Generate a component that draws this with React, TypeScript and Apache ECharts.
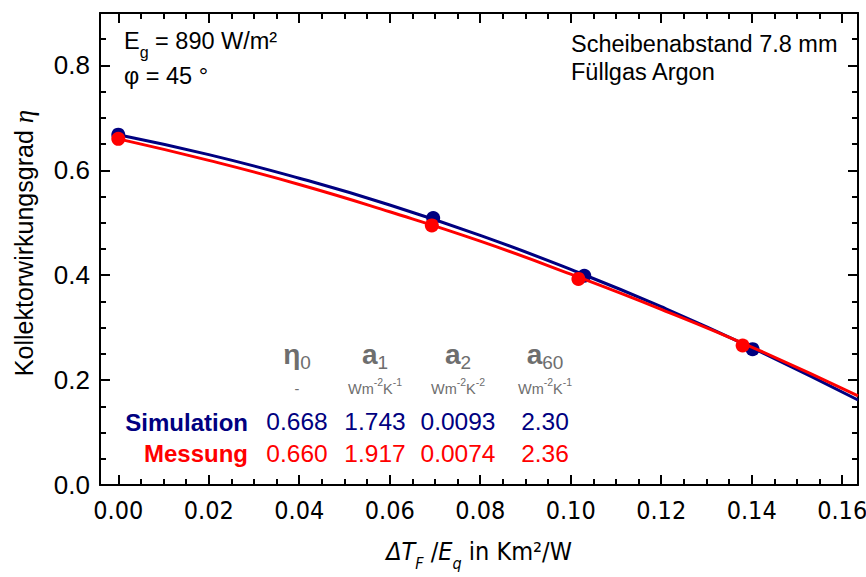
import React, { useEffect, useRef } from "react";
import * as echarts from "echarts";

// ---- data ----
const simPointsX = [0, 0.0696, 0.103, 0.1402];
const simPointsY = [0.668, 0.509, 0.399, 0.259];
const mesPointsX = [0, 0.0693, 0.1017, 0.138];
const mesPointsY = [0.66, 0.495, 0.393, 0.266];

const curveX = [0, 0.02, 0.04, 0.06, 0.08, 0.1, 0.12, 0.14, 0.1635];
const simCurveY = [0.668, 0.63, 0.585, 0.534, 0.476, 0.411, 0.34, 0.262, 0.162];
const mesCurveY = [0.66, 0.619, 0.573, 0.521, 0.465, 0.402, 0.335, 0.263, 0.17];

const xMajorTicks = [0, 0.02, 0.04, 0.06, 0.08, 0.1, 0.12, 0.14, 0.16];
const xMinorTicks = [
  0.005, 0.01, 0.015, 0.025, 0.03, 0.035, 0.045, 0.05, 0.055, 0.065, 0.07, 0.075,
  0.085, 0.09, 0.095, 0.105, 0.11, 0.115, 0.125, 0.13, 0.135, 0.145, 0.15, 0.155,
];
const yMajorTicks = [0, 0.2, 0.4, 0.6, 0.8];
const yMinorTicks = [0.05, 0.1, 0.15, 0.25, 0.3, 0.35, 0.45, 0.5, 0.55, 0.65, 0.7, 0.75, 0.85];

const tableHeaders = ["η", "a", "a", "a"];
const tableHeaderSubs = ["0", "1", "2", "60"];
const tableUnits = ["-", "Wm{s|-2}K{s|-1}", "Wm{s|-2}K{s|-2}", "Wm{s|-2}K{s|-1}"];
const simValues = ["0.668", "1.743", "0.0093", "2.30"];
const mesValues = ["0.660", "1.917", "0.0074", "2.36"];

const X_MIN = -0.00404;
const X_MAX = 0.1635;
const Y_MIN = 0;
const Y_MAX = 0.9;

const NAVY = "#000080";
const RED = "#ff0000";
const GRAY = "#6e6e6e";
const FONT = "'Liberation Sans', Arial, Helvetica, sans-serif";
const SERIF = "'Liberation Serif', 'Times New Roman', serif";
const NARROW = "'Liberation Sans Narrow', 'Arial Narrow', 'DejaVu Sans Condensed', 'Liberation Sans', sans-serif";

export default function App() {
  const ref = useRef<HTMLDivElement>(null);

  useEffect(() => {
    if (!ref.current) return;
    const chart = echarts.init(ref.current, undefined, { renderer: "svg" });

    const gridBox = { left: 100, top: 13, width: 758, height: 472, outerBoundsMode: "none" };

    const xBase = (gridIndex: number, position: string) => ({
      type: "value",
      gridIndex,
      position,
      min: X_MIN,
      max: X_MAX,
      splitLine: { show: false },
    });
    const yBase = (gridIndex: number, position: string) => ({
      type: "value",
      gridIndex,
      position,
      min: Y_MIN,
      max: Y_MAX,
      splitLine: { show: false },
    });
    const lineOn = { show: true, onZero: false, lineStyle: { color: "#000", width: 2 } };
    const lineOff = { show: false, onZero: false };
    const majorTick = (vals: number[]) => ({
      show: true,
      inside: true,
      length: 10,
      customValues: vals,
      lineStyle: { color: "#000", width: 2 },
    });
    const minorTick = (vals: number[]) => ({
      show: true,
      inside: true,
      length: 6,
      customValues: vals,
      lineStyle: { color: "#000", width: 2 },
    });

    const xAxes = [
      {
        ...xBase(0, "bottom"),
        axisLine: lineOn,
        axisTick: majorTick(xMajorTicks),
        axisLabel: {
          customValues: xMajorTicks,
          formatter: (v: number) => v.toFixed(2),
          fontSize: 25,
          fontFamily: NARROW,
          color: "#000",
          margin: 13,
        },
        name: "{i|ΔT}{is|F}{n| /}{i|E}{is|q}{n| in Km²/W}",
        nameLocation: "middle",
        nameGap: 54,
        nameTextStyle: {
          fontFamily: NARROW,
          rich: {
            i: { fontSize: 25, fontStyle: "italic", lineHeight: 32, verticalAlign: "top", fontFamily: NARROW, color: "#000" },
            is: { fontSize: 16, fontStyle: "italic", lineHeight: 13, verticalAlign: "bottom", fontFamily: NARROW, color: "#000" },
            n: { fontSize: 25, lineHeight: 32, verticalAlign: "top", fontFamily: NARROW, color: "#000" },
          },
        },
      },
      {
        ...xBase(0, "top"),
        axisLine: lineOn,
        axisTick: majorTick(xMajorTicks),
        axisLabel: { show: false },
      },
      {
        ...xBase(1, "bottom"),
        axisLine: lineOff,
        axisTick: minorTick(xMinorTicks),
        axisLabel: { show: false },
      },
      {
        ...xBase(1, "top"),
        axisLine: lineOff,
        axisTick: minorTick(xMinorTicks),
        axisLabel: { show: false },
      },
    ];

    const yAxes = [
      {
        ...yBase(0, "left"),
        axisLine: lineOn,
        axisTick: majorTick(yMajorTicks),
        axisLabel: {
          customValues: yMajorTicks,
          formatter: (v: number) => v.toFixed(1),
          fontSize: 26,
          fontFamily: FONT,
          color: "#000",
          margin: 10,
        },
      },
      {
        ...yBase(0, "right"),
        axisLine: lineOn,
        axisTick: majorTick(yMajorTicks),
        axisLabel: { show: false },
      },
      {
        ...yBase(1, "left"),
        axisLine: lineOff,
        axisTick: minorTick(yMinorTicks),
        axisLabel: { show: false },
      },
      {
        ...yBase(1, "right"),
        axisLine: lineOff,
        axisTick: minorTick(yMinorTicks),
        axisLabel: { show: false },
      },
    ];

    const zip = (xs: number[], ys: number[]) => xs.map((x, i) => [x, ys[i]]);

    const colX = [297, 375, 458, 545];
    const graphics: any[] = [];
    // y axis title
    graphics.push({
      type: "text",
      x: 24,
      y: 243,
      rotation: Math.PI / 2,
      style: {
        text: "Kollektorwirkungsgrad {i|η}",
        fontSize: 25,
        fontFamily: FONT,
        fill: "#000",
        align: "center",
        verticalAlign: "middle",
        rich: { i: { fontSize: 27, fontStyle: "italic", fontFamily: SERIF, fill: "#000" } },
      },
    });
    // Top-left annotation
    graphics.push({
      type: "text",
      left: 124,
      top: 29,
      style: {
        text: "{m|E}{s|g}{m| = 890 W/m²}",
        rich: {
          m: { fontSize: 23.5, lineHeight: 31, verticalAlign: "top", fontFamily: FONT, fill: "#000" },
          s: { fontSize: 16, lineHeight: 13, verticalAlign: "bottom", fontFamily: FONT, fill: "#000" },
        },
      },
    });
    graphics.push({
      type: "text",
      x: 124,
      y: 76,
      style: { text: "φ = 45 °", fontSize: 23.5, fontFamily: FONT, fill: "#000", verticalAlign: "middle", align: "left" },
    });
    graphics.push({
      type: "text",
      x: 571,
      y: 44,
      style: { text: "Scheibenabstand 7.8 mm", fontSize: 23.5, fontFamily: FONT, fill: "#000", verticalAlign: "middle", align: "left" },
    });
    graphics.push({
      type: "text",
      x: 571,
      y: 72,
      style: { text: "Füllgas Argon", fontSize: 23.5, fontFamily: FONT, fill: "#000", verticalAlign: "middle", align: "left" },
    });
    // Table
    tableHeaders.forEach((h, i) => {
      graphics.push({
        type: "text",
        x: colX[i],
        y: 356,
        style: {
          text: `{m|${h}}{s|${tableHeaderSubs[i]}}`,
          align: "center",
          verticalAlign: "middle",
          rich: {
            m: { fontSize: 28, fontWeight: "bold", lineHeight: 32, verticalAlign: "top", fontFamily: FONT, fill: GRAY },
            s: { fontSize: 19, lineHeight: 15, verticalAlign: "bottom", fontFamily: FONT, fill: GRAY },
          },
        },
      });
      graphics.push({
        type: "text",
        x: colX[i],
        y: 386,
        style: {
          text: i === 0 ? "{m|-}" : tableUnits[i].replace(/^Wm/, "{m|Wm}").replace("}K", "}{m|K}"),
          align: "center",
          verticalAlign: "middle",
          rich: {
            m: { fontSize: 14.5, lineHeight: 20, verticalAlign: "bottom", fontFamily: FONT, fill: GRAY },
            s: { fontSize: 10.5, lineHeight: 10, verticalAlign: "top", fontFamily: FONT, fill: GRAY },
          },
        },
      });
      graphics.push({
        type: "text",
        x: colX[i],
        y: 421,
        style: { text: simValues[i], fontSize: 24.5, fontFamily: FONT, fill: NAVY, align: "center", verticalAlign: "middle" },
      });
      graphics.push({
        type: "text",
        x: colX[i],
        y: 453,
        style: { text: mesValues[i], fontSize: 24.5, fontFamily: FONT, fill: RED, align: "center", verticalAlign: "middle" },
      });
    });
    graphics.push({
      type: "text",
      x: 248,
      y: 422,
      style: { text: "Simulation", fontSize: 24, fontWeight: "bold", fontFamily: FONT, fill: NAVY, align: "right", verticalAlign: "middle" },
    });
    graphics.push({
      type: "text",
      x: 248,
      y: 453,
      style: { text: "Messung", fontSize: 24, fontWeight: "bold", fontFamily: FONT, fill: RED, align: "right", verticalAlign: "middle" },
    });

    chart.setOption({
      animation: false,
      backgroundColor: "#fff",
      grid: [gridBox, { ...gridBox }],
      xAxis: xAxes,
      yAxis: yAxes,
      graphic: graphics,
      series: [
        {
          name: "Simulation Kurve",
          type: "line",
          xAxisIndex: 0,
          yAxisIndex: 0,
          data: zip(curveX, simCurveY),
          smooth: true,
          showSymbol: false,
          lineStyle: { color: NAVY, width: 3 },
          itemStyle: { color: NAVY },
          z: 2,
        },
        {
          name: "Simulation",
          type: "scatter",
          xAxisIndex: 0,
          yAxisIndex: 0,
          data: zip(simPointsX, simPointsY),
          symbolSize: 14,
          itemStyle: { color: NAVY, opacity: 1 },
          z: 3,
        },
        {
          name: "Messung Kurve",
          type: "line",
          xAxisIndex: 0,
          yAxisIndex: 0,
          data: zip(curveX, mesCurveY),
          smooth: true,
          showSymbol: false,
          lineStyle: { color: RED, width: 3 },
          itemStyle: { color: RED },
          z: 4,
        },
        {
          name: "Messung",
          type: "scatter",
          xAxisIndex: 0,
          yAxisIndex: 0,
          data: zip(mesPointsX, mesPointsY),
          symbolSize: 14,
          itemStyle: { color: RED, opacity: 1 },
          z: 5,
        },
      ],
    });

    return () => chart.dispose();
  }, []);

  return <div ref={ref} style={{ width: 866, height: 577, position: "absolute", left: 0, top: 0 }} />;
}
